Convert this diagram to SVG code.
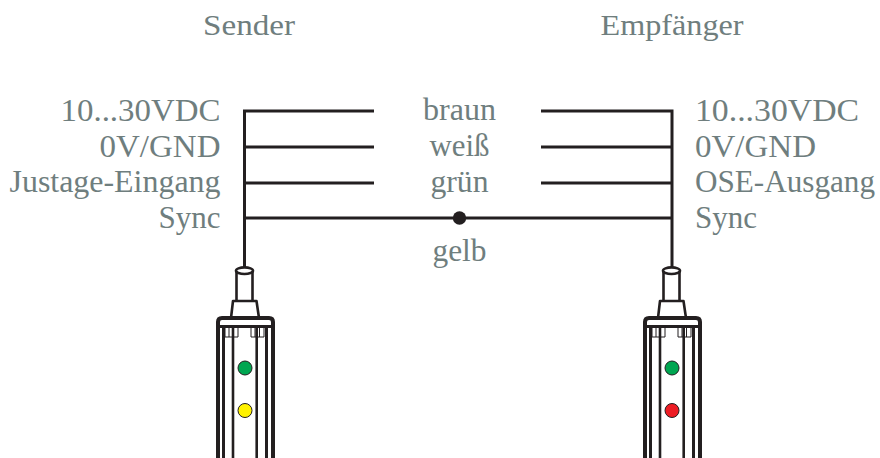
<svg xmlns="http://www.w3.org/2000/svg" width="880" height="458" viewBox="0 0 880 458">
<style>
text{font-family:"Liberation Serif","Times New Roman",serif;font-size:32px;fill:#6f7e7e}
.e{text-anchor:end}.m{text-anchor:middle}
.w{fill:none;stroke:#231f20;stroke-width:3}
.b{fill:none;stroke:#231f20;stroke-width:2.600;stroke-linejoin:round}
.t{fill:none;stroke:#231f20;stroke-width:1}
.l{stroke:#231f20;stroke-width:1}
</style>
<defs>
<g id="dev">
<path class="b" d="M-8.500 271V301M7.500 271V301"/>
<ellipse class="b" cx="-0.500" cy="270.700" rx="8.500" ry="3.300"/>
<path class="b" fill="#fff" d="M-14 318L-12 301H11.500L14 318"/>
<path d="M-27 458V322Q-27 318 -23 318H24Q28 318 28 322V458" fill="none" stroke="#231f20" stroke-width="4"/>
<path d="M-27 326.500H28" fill="none" stroke="#231f20" stroke-width="3"/>
<path d="M-21.500 326V458M21.500 326V458" fill="none" stroke="#231f20" stroke-width="3"/>
<path class="b" d="M-12 326V458M11.700 326V458"/>
<path fill="#fff" class="t" stroke-width="1.800" d="M-20 327V337H-7V327M6 327V337H19V327"/>
<path class="t" stroke-width="1.500" d="M-16 327V337M-11.500 327V337M10 327V337M14.500 327V337"/>
</g>
</defs>
<g id="connectors">
<path class="w" d="M374 111H244.500V268M244.500 147H374M244.500 183H374M244.500 218H672M541 111H672V268M541 147H672M541 183H672"/>
<circle cx="459.500" cy="218" r="6.700" fill="#231f20"/>
</g>
<g id="sender">
<use href="#dev" x="245"/>
<circle class="l" cx="245" cy="368" r="7" fill="#00a651"/>
<circle class="l" cx="245" cy="410.500" r="7" fill="#fff200"/>
<text class="m" x="249" y="35" textLength="92" lengthAdjust="spacingAndGlyphs" style="font-size:29px">Sender</text>
<text class="e" x="220.500" y="121" textLength="160" lengthAdjust="spacingAndGlyphs">10...30VDC</text>
<text class="e" x="220.500" y="157" textLength="121" lengthAdjust="spacingAndGlyphs">0V/GND</text>
<text class="e" x="220.500" y="192" textLength="211" lengthAdjust="spacingAndGlyphs">Justage-Eingang</text>
<text class="e" x="220.500" y="228" textLength="62" lengthAdjust="spacingAndGlyphs">Sync</text>
</g>
<g id="receiver">
<use href="#dev" x="672"/>
<circle class="l" cx="672" cy="368" r="7" fill="#00a651"/>
<circle class="l" cx="672" cy="410.500" r="7" fill="#ed1c24"/>
<text class="m" x="672" y="35" textLength="143" lengthAdjust="spacingAndGlyphs" style="font-size:29px">Empfänger</text>
<text x="695" y="121" textLength="164" lengthAdjust="spacingAndGlyphs">10...30VDC</text>
<text x="695" y="157" textLength="121" lengthAdjust="spacingAndGlyphs">0V/GND</text>
<text x="695" y="192" textLength="180" lengthAdjust="spacingAndGlyphs">OSE-Ausgang</text>
<text x="695" y="228" textLength="62" lengthAdjust="spacingAndGlyphs">Sync</text>
</g>
<g id="wire-labels">
<text class="m" x="459.500" y="120" textLength="73" lengthAdjust="spacingAndGlyphs">braun</text>
<text class="m" x="459.500" y="156" textLength="60" lengthAdjust="spacingAndGlyphs">weiß</text>
<text class="m" x="459.500" y="192" textLength="58" lengthAdjust="spacingAndGlyphs">grün</text>
<text class="m" x="459.500" y="261" textLength="54" lengthAdjust="spacingAndGlyphs">gelb</text>
</g>
</svg>
